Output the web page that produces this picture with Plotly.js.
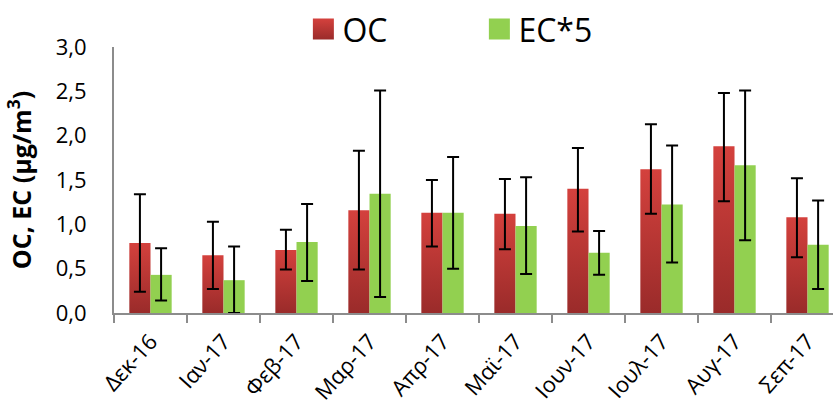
<!DOCTYPE html>
<html>
<head>
<meta charset="utf-8">
<script src="https://cdn.plot.ly/plotly-3.0.1.min.js"></script>
<style>html,body{margin:0;padding:0;background:#fff;}#chart{width:833px;height:407px;}</style>
</head>
<body>
<div id="chart"></div>
<script>
var months = ["Δεκ-16","Ιαν-17","Φεβ-17","Μαρ-17","Απρ-17","Μαϊ-17","Ιουν-17","Ιουλ-17","Αυγ-17","Σεπ-17"];
var ocMean = [0.79, 0.65, 0.71, 1.16, 1.13, 1.12, 1.40, 1.62, 1.88, 1.08];
var ocHigh = [1.34, 1.03, 0.94, 1.83, 1.50, 1.51, 1.86, 2.13, 2.48, 1.52];
var ocLow  = [0.24, 0.27, 0.49, 0.49, 0.75, 0.72, 0.92, 1.12, 1.26, 0.63];
var ecMean = [0.43, 0.37, 0.80, 1.345, 1.13, 0.98, 0.68, 1.225, 1.665, 0.77];
var ecHigh = [0.73, 0.75, 1.23, 2.51, 1.76, 1.53, 0.925, 1.89, 2.51, 1.27];
var ecLow  = [0.14, 0.00, 0.36, 0.18, 0.50, 0.44, 0.43, 0.57, 0.82, 0.27];

function diff(a, b) { return a.map(function (v, i) { return +(v - b[i]).toFixed(3); }); }

var FONT = '"Open Sans", "DejaVu Sans", sans-serif';

var traces = [
  {
    type: 'bar', name: 'OC', x: months, y: ocMean,
    marker: { color: '#c0372f' },
    error_y: { type: 'data', symmetric: false, array: diff(ocHigh, ocMean), arrayminus: diff(ocMean, ocLow),
               color: '#000', thickness: 2, width: 6 }
  },
  {
    type: 'bar', name: 'EC*5', x: months, y: ecMean,
    marker: { color: '#92d050' },
    error_y: { type: 'data', symmetric: false, array: diff(ecHigh, ecMean), arrayminus: diff(ecMean, ecLow),
               color: '#000', thickness: 2, width: 6 }
  }
];

var layout = {
  width: 833, height: 407,
  margin: { l: 114, r: 0, t: 47, b: 94 },
  paper_bgcolor: '#fff', plot_bgcolor: '#fff',
  separators: ',.',
  font: { family: FONT, color: '#000' },
  barmode: 'group', bargap: 0.42, bargroupgap: 0,
  showlegend: true,
  legend: {
    orientation: 'h', x: 0.262, xanchor: 'left', y: 1.17, yanchor: 'top',
    font: { size: 32, family: FONT }, entrywidth: 131, entrywidthmode: 'pixels',
    traceorder: 'normal', bgcolor: 'rgba(0,0,0,0)'
  },
  xaxis: {
    type: 'category', range: [-0.5, 9.349], showgrid: false, zeroline: false,
    showline: true, linecolor: '#8c8c8c', linewidth: 2,
    ticks: 'outside', tickson: 'boundaries', ticklen: 8, tickwidth: 2, tickcolor: '#8c8c8c',
    tickangle: -48, tickfont: { size: 22, family: FONT }, ticklabelstandoff: 5
  },
  yaxis: {
    range: [0, 3.0], dtick: 0.5, tickformat: '.1f', showgrid: false, zeroline: false,
    showline: true, linecolor: '#8c8c8c', linewidth: 2, ticks: '',
    tickfont: { size: 22, family: FONT }, ticklabelstandoff: 21,
    title: { text: '<b>OC, EC (μg/m<sup>3</sup>)</b>', font: { size: 25, family: FONT }, standoff: 17 }
  }
};

Plotly.newPlot('chart', traces, layout, { displayModeBar: false, staticPlot: true }).then(function () {
  var svg = document.querySelector('#chart .main-svg');
  var defs = svg.querySelector('defs');
  var ns = 'http://www.w3.org/2000/svg';
  var g = document.createElementNS(ns, 'linearGradient');
  g.setAttribute('id', 'ocGrad');
  g.setAttribute('x1', '0'); g.setAttribute('y1', '0'); g.setAttribute('x2', '0'); g.setAttribute('y2', '1');
  [['0', '#d4413d'], ['1', '#9a2b2a']].forEach(function (s) {
    var st = document.createElementNS(ns, 'stop');
    st.setAttribute('offset', s[0]); st.setAttribute('stop-color', s[1]);
    g.appendChild(st);
  });
  defs.appendChild(g);
  var tr = document.querySelectorAll('#chart .barlayer .trace');
  if (tr[0]) tr[0].querySelectorAll('.point path').forEach(function (p) { p.style.fill = 'url(#ocGrad)'; });
  document.querySelectorAll('#chart .legend .legendpoints path').forEach(function (p, i) {
    p.setAttribute('transform', 'translate(21,0) scale(1.75)');
    if (i === 0) p.style.fill = 'url(#ocGrad)';
    p.style.strokeWidth = '0';
  });
});
</script>
</body>
</html>
